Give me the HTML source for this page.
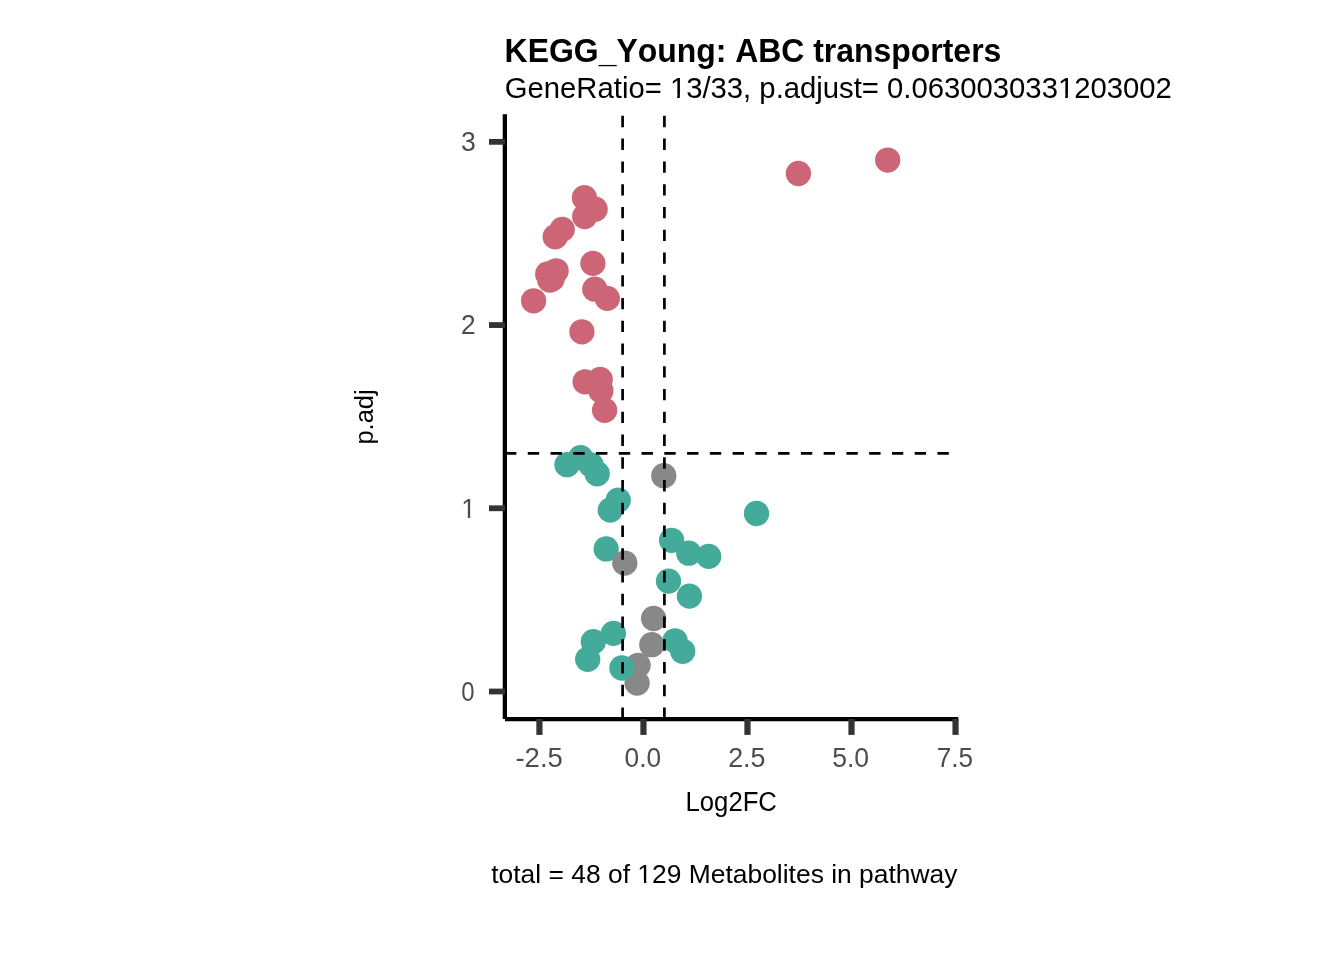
<!DOCTYPE html>
<html><head><meta charset="utf-8"><title>KEGG_Young: ABC transporters</title>
<style>
html,body{margin:0;padding:0;background:#fff;width:1344px;height:960px;overflow:hidden}
svg{display:block;will-change:transform}
text{font-family:"Liberation Sans",Arial,Helvetica,sans-serif;font-kerning:none}
</style></head>
<body>
<svg width="1344" height="960" viewBox="0 0 1344 960">
<rect width="1344" height="960" fill="#fff"/>
<g>
<circle cx="584.4" cy="197.7" r="12.65" fill="#CC6677"/>
<circle cx="595.1" cy="209.2" r="12.65" fill="#CC6677"/>
<circle cx="584.7" cy="216.5" r="12.65" fill="#CC6677"/>
<circle cx="562.2" cy="229.4" r="12.65" fill="#CC6677"/>
<circle cx="555.2" cy="236.8" r="12.65" fill="#CC6677"/>
<circle cx="592.9" cy="263.4" r="12.65" fill="#CC6677"/>
<circle cx="556.1" cy="270.8" r="12.65" fill="#CC6677"/>
<circle cx="547.7" cy="274.0" r="12.65" fill="#CC6677"/>
<circle cx="549.8" cy="280.0" r="12.65" fill="#CC6677"/>
<circle cx="552.05" cy="279.0" r="12.65" fill="#CC6677"/>
<circle cx="594.8" cy="289.2" r="12.65" fill="#CC6677"/>
<circle cx="607.3" cy="298.4" r="12.65" fill="#CC6677"/>
<circle cx="533.6" cy="300.8" r="12.65" fill="#CC6677"/>
<circle cx="581.9" cy="331.8" r="12.65" fill="#CC6677"/>
<circle cx="585.1" cy="381.8" r="12.65" fill="#CC6677"/>
<circle cx="600.2" cy="379.5" r="12.65" fill="#CC6677"/>
<circle cx="600.9" cy="390.7" r="12.65" fill="#CC6677"/>
<circle cx="604.6" cy="410.3" r="12.65" fill="#CC6677"/>
<circle cx="798.4" cy="173.5" r="12.65" fill="#CC6677"/>
<circle cx="887.7" cy="160.05" r="12.65" fill="#CC6677"/>
<circle cx="606.15" cy="548.96" r="12.65" fill="#44AA99"/>
<circle cx="663.75" cy="475.7" r="12.65" fill="#888888"/>
<circle cx="624.8" cy="563.04" r="12.65" fill="#888888"/>
<circle cx="653.6" cy="618.5" r="12.65" fill="#888888"/>
<circle cx="651.8" cy="644.7" r="12.65" fill="#888888"/>
<circle cx="638.1" cy="665.3" r="12.65" fill="#888888"/>
<circle cx="637.1" cy="683.1" r="12.65" fill="#888888"/>
<circle cx="567.0" cy="464.7" r="12.65" fill="#44AA99"/>
<circle cx="580.6" cy="457.7" r="12.65" fill="#44AA99"/>
<circle cx="591.1" cy="465.0" r="12.65" fill="#44AA99"/>
<circle cx="597.2" cy="473.8" r="12.65" fill="#44AA99"/>
<circle cx="618.2" cy="500.2" r="12.65" fill="#44AA99"/>
<circle cx="610.3" cy="510.1" r="12.65" fill="#44AA99"/>
<circle cx="671.6" cy="540.3" r="12.65" fill="#44AA99"/>
<circle cx="688.8" cy="553.2" r="12.65" fill="#44AA99"/>
<circle cx="708.7" cy="556.4" r="12.65" fill="#44AA99"/>
<circle cx="668.5" cy="581.1" r="12.65" fill="#44AA99"/>
<circle cx="689.4" cy="596.1" r="12.65" fill="#44AA99"/>
<circle cx="756.5" cy="513.5" r="12.65" fill="#44AA99"/>
<circle cx="621.9" cy="668.0" r="12.65" fill="#44AA99"/>
<circle cx="613.4" cy="633.4" r="12.65" fill="#44AA99"/>
<circle cx="593.3" cy="641.75" r="12.65" fill="#44AA99"/>
<circle cx="587.7" cy="659.3" r="12.65" fill="#44AA99"/>
<circle cx="675.1" cy="640.8" r="12.65" fill="#44AA99"/>
<circle cx="682.7" cy="651.3" r="12.65" fill="#44AA99"/>
</g>
<line x1="622.6" y1="719" x2="622.6" y2="114" stroke="#000" stroke-width="2.7" stroke-dasharray="11.38 11.38"/>
<line x1="664.4" y1="719" x2="664.4" y2="114" stroke="#000" stroke-width="2.7" stroke-dasharray="11.38 11.38"/>
<line x1="505" y1="453.3" x2="958.3" y2="453.3" stroke="#000" stroke-width="2.7" stroke-dasharray="11.38 11.38"/>
<line x1="504.85" y1="114.25" x2="504.85" y2="718.9" stroke="#000" stroke-width="4.3"/>
<line x1="505" y1="719.05" x2="958.3" y2="719.05" stroke="#000" stroke-width="4.3"/>
<line x1="539.43" y1="719" x2="539.43" y2="734.9" stroke="#333333" stroke-width="6.2"/>
<line x1="643.45" y1="719" x2="643.45" y2="734.9" stroke="#333333" stroke-width="6.2"/>
<line x1="747.48" y1="719" x2="747.48" y2="734.9" stroke="#333333" stroke-width="6.2"/>
<line x1="851.50" y1="719" x2="851.50" y2="734.9" stroke="#333333" stroke-width="6.2"/>
<line x1="955.53" y1="719" x2="955.53" y2="734.9" stroke="#333333" stroke-width="6.2"/>
<line x1="489" y1="691.50" x2="505" y2="691.50" stroke="#333333" stroke-width="5.8"/>
<line x1="489" y1="508.28" x2="505" y2="508.28" stroke="#333333" stroke-width="5.8"/>
<line x1="489" y1="325.06" x2="505" y2="325.06" stroke="#333333" stroke-width="5.8"/>
<line x1="489" y1="141.84" x2="505" y2="141.84" stroke="#333333" stroke-width="5.8"/>
<text id="title" transform="translate(504.61,61.97) scale(1,1.01)" font-size="32.1" font-weight="bold" fill="#000" textLength="496.70" lengthAdjust="spacingAndGlyphs">KEGG_Young: ABC transporters</text>
<clipPath id="cl_sub"><path clip-rule="evenodd" d="M-20,-60H707.03V40H-20ZM166.71,-3.07H172.43V2.00H166.71ZM175.05,-3.07H180.54V2.00H175.05ZM554.73,-3.07H560.45V2.00H554.73ZM563.08,-3.07H568.56V2.00H563.08Z"/></clipPath><text id="sub" clip-path="url(#cl_sub)" transform="translate(504.79,97.90) scale(1,1.015)" font-size="29.1" font-weight="normal" fill="#000" textLength="667.03" lengthAdjust="spacingAndGlyphs">GeneRatio= 13/33, p.adjust= 0.0630030331203002</text>
<text id="log2fc" transform="translate(685.55,810.90) scale(1,1.03)" font-size="26.2" font-weight="normal" fill="#000" textLength="91.38" lengthAdjust="spacingAndGlyphs">Log2FC</text>
<text id="padj" transform="translate(372.70,444.53) rotate(-90) scale(1,0.99)" font-size="26.2" font-weight="normal" fill="#000" textLength="55.05" lengthAdjust="spacingAndGlyphs">p.adj</text>
<clipPath id="cl_cap"><path clip-rule="evenodd" d="M-20,-60H506.28V40H-20ZM147.53,-2.86H152.75V2.00H147.53ZM155.13,-2.86H160.14V2.00H155.13Z"/></clipPath><text id="cap" clip-path="url(#cl_cap)" transform="translate(491.20,882.70) scale(1,0.985)" font-size="26.2" font-weight="normal" fill="#000" textLength="466.28" lengthAdjust="spacingAndGlyphs">total = 48 of 129 Metabolites in pathway</text>
<text id="xt-2.5" transform="translate(515.44,766.70) scale(1,1.02)" font-size="26.2" font-weight="normal" fill="#4D4D4D" textLength="47.45" lengthAdjust="spacingAndGlyphs">-2.5</text>
<text id="xt0.0" transform="translate(624.55,766.70) scale(1,1.02)" font-size="26.2" font-weight="normal" fill="#4D4D4D" textLength="36.52" lengthAdjust="spacingAndGlyphs">0.0</text>
<text id="xt2.5" transform="translate(728.20,766.70) scale(1,1.02)" font-size="26.2" font-weight="normal" fill="#4D4D4D" textLength="37.31" lengthAdjust="spacingAndGlyphs">2.5</text>
<text id="xt5.0" transform="translate(832.18,766.70) scale(1,1.02)" font-size="26.2" font-weight="normal" fill="#4D4D4D" textLength="36.95" lengthAdjust="spacingAndGlyphs">5.0</text>
<text id="xt7.5" transform="translate(936.63,766.70) scale(1,1.02)" font-size="26.2" font-weight="normal" fill="#4D4D4D" textLength="36.31" lengthAdjust="spacingAndGlyphs">7.5</text>
<text id="yt0" transform="translate(461.29,700.90) scale(1,1.02)" font-size="26.2" font-weight="normal" fill="#4D4D4D" textLength="13.29" lengthAdjust="spacingAndGlyphs">0</text>
<clipPath id="c1"><rect x="459.23" y="487.68" width="16" height="28.00"/><rect x="467.77" y="515.18" width="2.42" height="4.00"/></clipPath><g clip-path="url(#c1)"><text id="yt1" transform="translate(461.23,517.68) scale(1,1.02)" font-size="26.2" font-weight="normal" fill="#4D4D4D">1</text></g>
<text id="yt2" transform="translate(461.00,334.46) scale(1,1.02)" font-size="26.2" font-weight="normal" fill="#4D4D4D" textLength="14.65" lengthAdjust="spacingAndGlyphs">2</text>
<text id="yt3" transform="translate(460.88,151.24) scale(1,1.02)" font-size="26.2" font-weight="normal" fill="#4D4D4D" textLength="14.82" lengthAdjust="spacingAndGlyphs">3</text>
</svg>
</body></html>
